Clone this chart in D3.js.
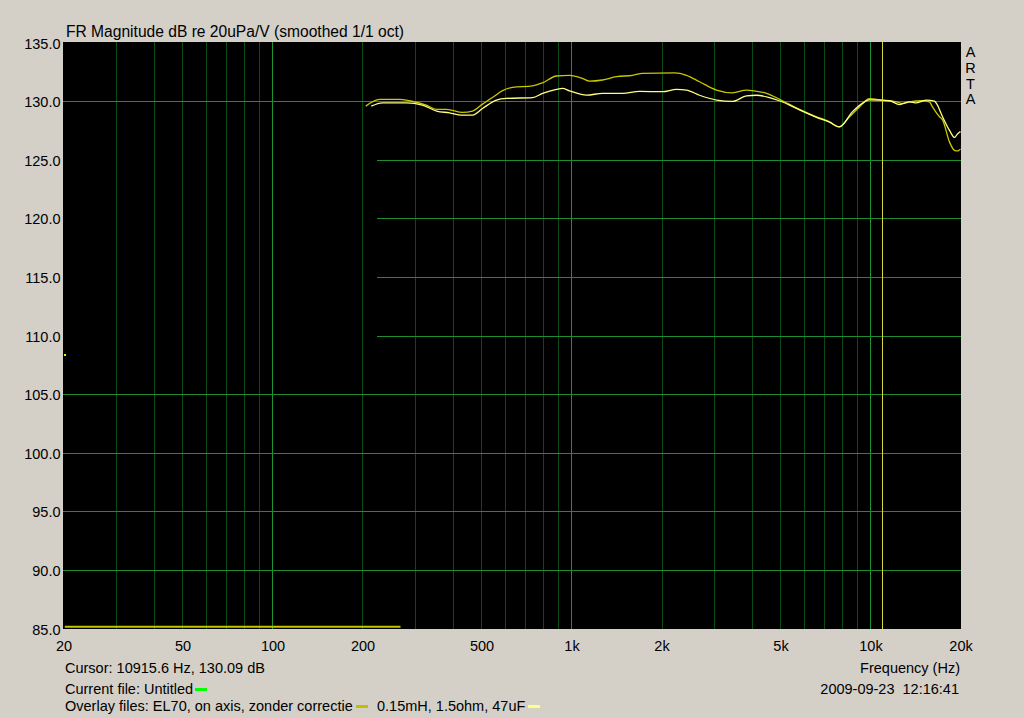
<!DOCTYPE html>
<html>
<head>
<meta charset="utf-8">
<script src="https://cdn.jsdelivr.net/npm/d3@7"></script>
<style>
  html, body { margin: 0; padding: 0; background: #d4d0c8; }
  svg { display: block; }
  text { font-family: "Liberation Sans", Arial, sans-serif; font-size: 14.5px; fill: #000; }
</style>
</head>
<body>
<svg id="chart" width="1024" height="718"></svg>
<script>
// ---------- data ----------
const yTicks = [135, 130, 125, 120, 115, 110, 105, 100, 95, 90, 85];
const xTickValues = [20, 50, 100, 200, 500, 1000, 2000, 5000, 10000, 20000];
const xTickLabels = ["20", "50", "100", "200", "500", "1k", "2k", "5k", "10k", "20k"];
const decadeLines = [100, 1000, 10000];
const partialGridLevels = [125, 120, 115, 110];   // grid lines that only start at ~223 Hz
const partialGridStartHz = 223;

// Overlay 1: "EL70, on axis, zonder correctie" (olive)
const el70Freq = [205, 228, 246, 266, 287, 327, 354, 382, 432, 467, 504, 544, 588, 635, 741, 800, 891, 985,
  1088, 1149, 1270, 1414, 1600, 1728, 2211, 2424, 2680, 3056, 3456, 3849, 4030, 4490, 5078, 5788, 6598,
  7294, 7818, 8509, 9190, 9925, 10966, 12220, 12796, 13504, 14928, 15740, 16120, 17010, 17420, 18380,
  19100, 19540, 19860, 20000];
const el70dB = [129.57, 130.15, 130.15, 130.15, 130.03, 129.66, 129.3, 129.3, 129.03, 129.15, 129.74, 130.3,
  130.9, 131.17, 131.3, 131.56, 132.14, 132.2, 131.94, 131.7, 131.8, 132.08, 132.2, 132.37, 132.4, 132.2,
  131.65, 130.94, 130.7, 130.94, 130.9, 130.66, 130.03, 129.3, 128.66, 128.23, 127.8, 128.66, 129.5, 130.2,
  130.08, 129.94, 129.8, 129.94, 130.03, 129.94, 129.5, 128.66, 128.4, 126.5, 125.8, 125.75, 125.85, 125.9];

// Overlay 2: "0.15mH, 1.5ohm, 47uF" (light yellow)
const corrFreq = [214, 233, 281, 317, 354, 391, 429, 467, 504, 561, 606, 741, 800, 891, 933, 985, 1123, 1270,
  1481, 1688, 2015, 2245, 2424, 2680, 3056, 3456, 3849, 4158, 4595, 4962, 5360, 5788, 6598, 7294, 7878,
  8709, 9550, 9925, 11574, 12500, 13504, 14254, 15396, 16368, 16620, 17420, 18380, 19100, 19540, 19860, 20000];
const corrdB = [129.57, 129.85, 129.85, 129.66, 129.15, 129.0, 128.8, 128.8, 129.37, 130.09, 130.23, 130.3,
  130.66, 131.0, 131.08, 130.88, 130.51, 130.66, 130.66, 130.83, 130.8, 131.0, 130.94, 130.5, 130.09, 129.97,
  130.45, 130.5, 130.3, 130.03, 129.66, 129.25, 128.62, 128.2, 127.8, 129.1, 129.94, 130.1, 130.03, 129.7,
  129.94, 129.85, 130.09, 130.0, 129.8, 128.66, 127.5, 126.9, 127.2, 127.35, 127.4];

// low-frequency trace of overlay 1 along the bottom
const lowTraceFreq = [20.2, 268];
const lowTracedB = [85.15, 85.15];

// small marker at the left edge (current file)
const markerFreq = [20];
const markerdB = [108.3];

const cursorHz = 10915.6;
const cursorText = "Cursor: 10915.6 Hz, 130.09 dB";

// ---------- chart ----------
const svg = d3.select("#chart");
const W = 1024, H = 718;
const plot = { left: 63, top: 42, right: 961, bottom: 629 };

const x = d3.scaleLog().domain([20, 20000]).range([63.5, 960.5]);
const y = d3.scaleLinear().domain([85, 135]).range([628.5, 42.5]);
const px = v => Math.round(v) + 0.5;

svg.append("rect").attr("width", W).attr("height", H).attr("fill", "#d4d0c8");
svg.append("rect")
  .attr("x", plot.left).attr("y", plot.top)
  .attr("width", plot.right - plot.left).attr("height", plot.bottom - plot.top)
  .attr("fill", "#000");

const grid = svg.append("g").attr("shape-rendering", "crispEdges");

// vertical grid
const vTicks = x.ticks().filter(f => f > 20 && f < 20000);
grid.selectAll("line.v").data(vTicks).join("line")
  .attr("x1", d => px(x(d))).attr("x2", d => px(x(d)))
  .attr("y1", plot.top).attr("y2", plot.bottom)
  .attr("stroke", d => decadeLines.includes(d) ? "#1f9232" : "#0b4c16")
  .attr("stroke-width", 1);

// horizontal grid
const hLevels = yTicks.filter(v => v !== 135 && v !== 85);
grid.selectAll("line.h").data(hLevels).join("line")
  .attr("x1", d => partialGridLevels.includes(d) ? Math.round(x(partialGridStartHz)) : plot.left)
  .attr("x2", plot.right)
  .attr("y1", d => px(y(d))).attr("y2", d => px(y(d)))
  .attr("stroke", "#1f8c32")
  .attr("stroke-width", 1);

// curves
const line = d3.line().x(d => x(d[0])).y(d => y(d[1])).curve(d3.curveMonotoneX);
const el70 = el70Freq.map((f, i) => [f, el70dB[i]]);
const corr = corrFreq.map((f, i) => [f, corrdB[i]]);
const low = lowTraceFreq.map((f, i) => [f, lowTracedB[i]]);

svg.append("path").datum(low).attr("d", line)
  .attr("fill", "none").attr("stroke", "#c4c400").attr("stroke-width", 2.2);

svg.append("path").datum(el70).attr("d", line)
  .attr("fill", "none").attr("stroke", "#c8c800").attr("stroke-width", 1.3);
svg.append("path").datum(corr).attr("d", line)
  .attr("fill", "none").attr("stroke", "#ffff80").attr("stroke-width", 1.3);

// cursor line
svg.append("line")
  .attr("shape-rendering", "crispEdges")
  .attr("x1", px(x(cursorHz))).attr("x2", px(x(cursorHz)))
  .attr("y1", plot.top).attr("y2", plot.bottom)
  .attr("stroke", "#d8d840").attr("stroke-width", 1);

// marker
svg.selectAll("rect.marker").data(markerFreq).join("rect")
  .attr("x", (d) => Math.round(x(d))).attr("y", (d, i) => Math.round(y(markerdB[i])) - 1)
  .attr("width", 2).attr("height", 2).attr("fill", "#f0f000");

// axes
const yAxis = d3.axisLeft(y).tickValues(yTicks).tickSize(0).tickPadding(3)
  .tickFormat(d => d.toFixed(1));
const gy = svg.append("g").attr("transform", "translate(63.5,0)").call(yAxis);
gy.select(".domain").remove();
gy.selectAll("text").attr("dy", "0.38em")
  .style("font-family", '"Liberation Sans", Arial, sans-serif').style("font-size", "14.5px").attr("fill", "#000");

const xAxis = d3.axisBottom(x).tickValues(xTickValues).tickSize(0).tickPadding(12)
  .tickFormat((d, i) => xTickLabels[i]);
const gx = svg.append("g").attr("transform", "translate(0,628.5)").call(xAxis);
gx.select(".domain").remove();
gx.selectAll("text")
  .style("font-family", '"Liberation Sans", Arial, sans-serif').style("font-size", "14.5px").attr("fill", "#000");

// texts
svg.append("text").attr("x", 66).attr("y", 37)
  .style("font-size", "16px")
  .attr("textLength", 338).attr("lengthAdjust", "spacingAndGlyphs")
  .text("FR Magnitude dB re 20uPa/V (smoothed 1/1 oct)");

const arta = ["A", "R", "T", "A"];
svg.selectAll("text.arta").data(arta).join("text")
  .attr("class", "arta")
  .attr("x", 970.5).attr("y", (d, i) => [57, 73, 88.5, 104][i])
  .attr("text-anchor", "middle").text(d => d);

svg.append("text").attr("x", 65).attr("y", 673).text(cursorText);
svg.append("text").attr("x", 960).attr("y", 673).attr("text-anchor", "end").text("Frequency (Hz)");
svg.append("text").attr("x", 959).attr("y", 694).attr("text-anchor", "end")
  .attr("xml:space", "preserve").style("white-space", "pre").text("2009-09-23  12:16:41");

const cf = svg.append("text").attr("x", 65).attr("y", 694).text("Current file: Untitled");
const cfEnd = 65 + cf.node().getComputedTextLength();
svg.append("rect").attr("x", Math.round(cfEnd + 2)).attr("y", 688).attr("width", 12).attr("height", 3).attr("fill", "#00ff00");

const of1 = svg.append("text").attr("x", 65).attr("y", 711).text("Overlay files: EL70, on axis, zonder correctie");
const of1End = 65 + of1.node().getComputedTextLength();
svg.append("rect").attr("x", Math.round(of1End + 3)).attr("y", 705).attr("width", 12).attr("height", 3).attr("fill", "#c0c000");
const of2x = Math.round(of1End + 3 + 12 + 9);
const of2 = svg.append("text").attr("x", of2x).attr("y", 711).text("0.15mH, 1.5ohm, 47uF");
const of2End = of2x + of2.node().getComputedTextLength();
svg.append("rect").attr("x", Math.round(of2End + 3)).attr("y", 705).attr("width", 12).attr("height", 3).attr("fill", "#ffff80");
</script>
</body>
</html>
